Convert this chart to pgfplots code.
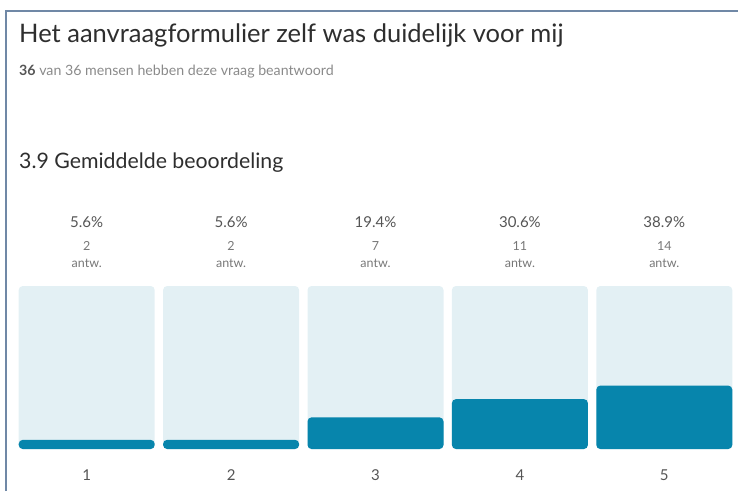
\documentclass[border=0pt]{standalone}
\usepackage{pgfplots}
\pgfplotsset{compat=1.18}
\usepackage{pgfplotstable}
\usepackage{fontspec}
\setmainfont{Lato}

\definecolor{barfg}{HTML}{0785AC}
\definecolor{barbg}{HTML}{E3F0F4}
\definecolor{framec}{HTML}{7088A6}
\definecolor{titlec}{HTML}{2E2E2E}
\definecolor{subc}{HTML}{8A8A8A}
\definecolor{pctc}{HTML}{555555}
\definecolor{cntc}{HTML}{777777}

% score, share of answers (%), number of answers, full scale
\pgfplotstableread{
x pct n full
1 5.6 2 100
2 5.6 2 100
3 19.4 7 100
4 30.6 11 100
5 38.9 14 100
}\answers

\begin{document}
\begin{tikzpicture}
\path[use as bounding box] (0,0) rectangle (738pt,491pt);
\draw[framec, line width=2pt] (6pt,0) -- (6pt,480pt) -- (738pt,480pt);

\node[anchor=base west, inner sep=0, text=titlec, font=\fontsize{25.5}{30}\selectfont]
  at (19pt,448pt) {Het aanvraagformulier zelf was duidelijk voor mij};
\node[anchor=base west, inner sep=0, text=subc, font=\fontsize{14.2}{17}\selectfont]
  at (19pt,415pt) {\textcolor{pctc}{\textbf{36}} van 36 mensen hebben deze vraag beantwoord};
\node[anchor=base west, inner sep=0, text=titlec, font=\fontsize{21.3}{25}\selectfont]
  at (19pt,323pt) {3.9 Gemiddelde beoordeling};

\begin{axis}[
    at={(14.5pt,42pt)}, anchor=south west,
    scale only axis,
    width=722pt, height=163pt,
    xmin=0.5, xmax=5.5, ymin=0, ymax=100,
    ybar, bar width=136pt, bar shift=0pt,
    axis line style={draw=none},
    ytick=\empty,
    xtick={1,2,3,4,5},
    xticklabels={1,2,3,4,5},
    major tick length=0pt,
    xticklabel style={anchor=base, yshift=-31pt, text=pctc, font=\fontsize{15}{18}\selectfont},
    clip=false,
]
\addplot[fill=barbg, draw=none, rounded corners=4pt,
    point meta=explicit symbolic,
    nodes near coords={\pgfplotspointmeta\%},
    every node near coord/.append style={anchor=base, yshift=59pt, text=pctc,
      font=\fontsize{15}{17}\selectfont}]
  table[x=x, y=full, meta=pct] {\answers};
\addplot[fill=none, draw=none,
    point meta=explicit symbolic,
    nodes near coords={\pgfplotspointmeta},
    every node near coord/.append style={anchor=base, yshift=36pt, text=cntc,
      font=\fontsize{12.5}{14}\selectfont}]
  table[x=x, y=full, meta=n] {\answers};
\addplot[fill=none, draw=none,
    nodes near coords={antw.},
    every node near coord/.append style={anchor=base, yshift=19pt, text=cntc,
      font=\fontsize{12.5}{14}\selectfont}]
  table[x=x, y=full] {\answers};
\addplot[fill=barfg, draw=none, rounded corners=4pt]
  table[x=x, y=pct] {\answers};
\end{axis}
\end{tikzpicture}
\end{document}
